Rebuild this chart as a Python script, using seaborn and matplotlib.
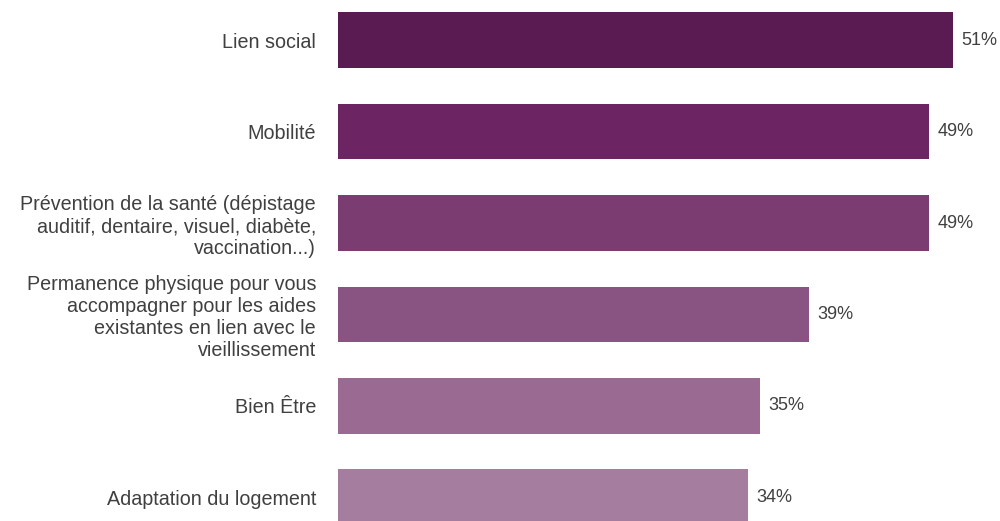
import numpy as np
import pandas as pd
import matplotlib
matplotlib.use("Agg")
import matplotlib.pyplot as plt
import seaborn as sns

categories = [
    "Lien social",
    "Mobilité",
    "Prévention de la santé (dépistage\nauditif, dentaire, visuel, diabète,\nvaccination...)",
    "Permanence physique pour vous\naccompagner pour les aides\nexistantes en lien avec le\nvieillissement",
    "Bien Être",
    "Adaptation du logement",
]
values = [51, 49, 49, 39, 35, 34]
bar_colors = ["#5a1a52", "#6c2462", "#7b3d71", "#8a5482", "#9a6a93", "#a47d9f"]

df = pd.DataFrame({"categorie": categories, "pct": values})

sns.set_theme(style="white")
plt.rcParams["font.family"] = ["Liberation Sans", "DejaVu Sans"]

fig = plt.figure(figsize=(10, 5.21), dpi=100)
ax = fig.add_axes([0.338, 0.0, 0.66, 1.0])

sns.barplot(data=df, y="categorie", x="pct", hue="categorie",
            palette=bar_colors, legend=False, width=0.61, ax=ax,
            edgecolor="none", saturation=1)

for cont in ax.containers:
    ax.bar_label(cont, fmt="%d%%", padding=6, fontsize=13, color="#404040")

ax.set_xlim(0, 54.7)
ax.set_ylim(5.26, -0.44)
ax.set_xlabel("")
ax.set_ylabel("")
ax.set_xticks([])
ax.tick_params(axis="y", length=0, pad=15.8, labelsize=14.2, labelcolor="#404040")
for lab in ax.get_yticklabels():
    lab.set_horizontalalignment("right")
sns.despine(ax=ax, left=True, bottom=True)

fig.savefig("out.png", dpi=100, facecolor="white")
